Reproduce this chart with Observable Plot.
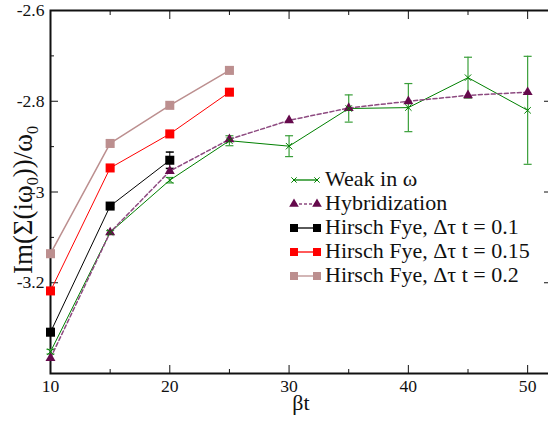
<!DOCTYPE html>
<html>
<head>
<meta charset="utf-8">
<script src="https://cdn.jsdelivr.net/npm/d3@7"></script>
<script src="https://cdn.jsdelivr.net/npm/@observablehq/plot@0.6"></script>
<style>
  html, body { margin: 0; padding: 0; background: white; }
  #chart svg { overflow: hidden; }
  #chart svg text { font-family: "Liberation Serif", "Times New Roman", Times, serif; }
</style>
</head>
<body>
<div id="chart"></div>
<script>
// ---- data ----
const xMajor = [10, 20, 30, 40, 50];
const xMinor = [15, 25, 35, 45];
const yMajor = [-3.4, -3.2, -3, -2.8, -2.6];
const yLabels = [-3.2, -3, -2.8, -2.6];
const yMinor = [-3.3, -3.1, -2.9, -2.7];

const betaAll = [10, 15, 20, 25, 30, 35, 40, 45, 50];
const weak    = [-3.352, -3.089, -2.974, -2.887, -2.899, -2.816, -2.814, -2.748, -2.820];
const weakErr = [0.005, 0.004, 0.006, 0.011, 0.023, 0.030, 0.053, 0.045, 0.119];
const hyb     = [-3.366, -3.089, -2.954, -2.884, -2.842, -2.815, -2.800, -2.787, -2.780];

const betaHF1 = [10, 15, 20];
const hf01    = [-3.309, -3.031, -2.930];
const hf01Err = [0.004, 0.004, 0.018];
const betaHF  = [10, 15, 20, 25];
const hf015   = [-3.218, -2.947, -2.872, -2.780];
const hf02    = [-3.136, -2.893, -2.809, -2.732];

const seriesNames = ["Weak in ω", "Hybridization", "Hirsch Fye, Δτ t = 0.1", "Hirsch Fye, Δτ t = 0.15", "Hirsch Fye, Δτ t = 0.2"];
const colors = {weak: "#008000", weakErr: "#3a9f3a", hyb: "#650a4c", hybLine: "#8d4a80", hf01: "#000000", hf015: "#ff0000", hf02: "#bc8f8f"};

// ---- tables ----
const weakRows = betaAll.map((b, i) => ({b, v: weak[i], e: weakErr[i]}));
const hybRows = betaAll.map((b, i) => ({b, v: hyb[i]}));
const hf01Rows = betaHF1.map((b, i) => ({b, v: hf01[i], e: hf01Err[i]}));
const hf015Rows = betaHF.map((b, i) => ({b, v: hf015[i]}));
const hf02Rows = betaHF.map((b, i) => ({b, v: hf02[i]}));

const FONT = "'Liberation Serif', 'Times New Roman', Times, serif";
const cap = {draw(ctx) { ctx.moveTo(-4, 0); ctx.lineTo(4, 0); }};
const fmt = d => String(d);
const blank = () => "";

const plot = Plot.plot({
  width: 548, height: 422,
  marginLeft: 50, marginRight: -3, marginTop: 10, marginBottom: 49,
  x: {domain: [10, 52]},
  y: {domain: [-3.4, -2.6]},
  style: {fontSize: "17.6px", color: "#111", background: "white"},
  marks: [
    // tick labels
    Plot.axisX(xMajor, {anchor: "bottom", tickSize: 0, tickPadding: 6, tickFormat: fmt, label: null, fontSize: 17.6, fontFamily: FONT}),
    Plot.axisY(yLabels, {anchor: "left", tickSize: 0, tickPadding: 6, tickFormat: fmt, label: null, fontSize: 17.6, fontFamily: FONT}),
    // inward ticks on all four sides
    Plot.axisX(xMajor, {anchor: "bottom", tickSize: -8, tickFormat: blank, label: null, stroke: "#111"}),
    Plot.axisX(xMinor, {anchor: "bottom", tickSize: -4, tickFormat: blank, label: null, stroke: "#111"}),
    Plot.axisX(xMajor, {anchor: "top", tickSize: -8, tickFormat: blank, label: null, stroke: "#111"}),
    Plot.axisX(xMinor, {anchor: "top", tickSize: -4, tickFormat: blank, label: null, stroke: "#111"}),
    Plot.axisY(yMajor, {anchor: "left", tickSize: -8, tickFormat: blank, label: null, stroke: "#111"}),
    Plot.axisY(yMinor, {anchor: "left", tickSize: -4, tickFormat: blank, label: null, stroke: "#111"}),
    Plot.axisY(yMajor, {anchor: "right", tickSize: -8, tickFormat: blank, label: null, stroke: "#111"}),
    Plot.axisY(yMinor, {anchor: "right", tickSize: -4, tickFormat: blank, label: null, stroke: "#111"}),
    Plot.frame({stroke: "#111", strokeWidth: 2}),

    // Hirsch Fye series
    Plot.line(hf02Rows, {x: "b", y: "v", stroke: colors.hf02, strokeWidth: 1.5}),
    Plot.dot(hf02Rows, {x: "b", y: "v", symbol: "square", r: 5.1, fill: colors.hf02}),
    Plot.line(hf015Rows, {x: "b", y: "v", stroke: colors.hf015, strokeWidth: 1}),
    Plot.dot(hf015Rows, {x: "b", y: "v", symbol: "square", r: 5.1, fill: colors.hf015}),
    Plot.line(hf01Rows, {x: "b", y: "v", stroke: colors.hf01, strokeWidth: 1}),
    Plot.ruleX(hf01Rows, {x: "b", y1: d => d.v - d.e, y2: d => d.v + d.e, stroke: colors.hf01}),
    Plot.dot(hf01Rows, {x: "b", y: d => d.v + d.e, symbol: cap, r: 3, fill: "none", stroke: colors.hf01}),
    Plot.dot(hf01Rows, {x: "b", y: d => d.v - d.e, symbol: cap, r: 3, fill: "none", stroke: colors.hf01}),
    Plot.dot(hf01Rows, {x: "b", y: "v", symbol: "square", r: 5.1, fill: colors.hf01}),

    // Weak in omega
    Plot.line(weakRows, {x: "b", y: "v", stroke: colors.weak, strokeWidth: 1}),
    Plot.ruleX(weakRows, {x: "b", y1: d => d.v - d.e, y2: d => d.v + d.e, stroke: colors.weakErr, strokeWidth: 1.2}),
    Plot.dot(weakRows, {x: "b", y: d => d.v + d.e, symbol: cap, r: 3, fill: "none", stroke: colors.weakErr, strokeWidth: 1.2}),
    Plot.dot(weakRows, {x: "b", y: d => d.v - d.e, symbol: cap, r: 3, fill: "none", stroke: colors.weakErr, strokeWidth: 1.2}),

    // Hybridization
    Plot.line(hybRows, {x: "b", y: "v", stroke: colors.hybLine, strokeWidth: 1.5, strokeDasharray: "4,2.5"}),
    Plot.dot(hybRows, {x: "b", y: "v", symbol: "triangle", r: 3.7, fill: colors.hyb}),

    Plot.dot(weakRows, {x: "b", y: "v", symbol: "times", r: 3, stroke: colors.weak, strokeWidth: 1}),

    // x label
    Plot.text(["βt"], {frameAnchor: "bottom", dy: 36, text: d => d, fontSize: 22, fontFamily: FONT, fill: "#111"})
  ]
});

document.getElementById("chart").appendChild(plot);

// ---- y label with subscripts ----
const svg = d3.select(plot);
const yl = svg.append("text")
  .attr("transform", "translate(32,200) rotate(-90)")
  .attr("text-anchor", "middle")
  .attr("font-family", FONT)
  .attr("font-size", 27)
  .attr("fill", "#111");
yl.append("tspan").text("Im(Σ(iω");
yl.append("tspan").attr("font-size", 16).attr("dy", 6).text("0");
yl.append("tspan").attr("dy", -6).text("))/ω");
yl.append("tspan").attr("font-size", 16).attr("dy", 6).text("0");

// ---- legend ----
const legendSpec = [
  {name: seriesNames[0], stroke: colors.weak, symbol: d3.symbolTimes, size: 20, fill: "none", mstroke: colors.weak, dash: null},
  {name: seriesNames[1], stroke: colors.hybLine, symbol: d3.symbolTriangle, size: 40, fill: colors.hyb, mstroke: "none", dash: "3,2"},
  {name: seriesNames[2], stroke: colors.hf01, symbol: d3.symbolSquare, size: 64, fill: colors.hf01, mstroke: "none", dash: null},
  {name: seriesNames[3], stroke: colors.hf015, symbol: d3.symbolSquare, size: 64, fill: colors.hf015, mstroke: "none", dash: null},
  {name: seriesNames[4], stroke: colors.hf02, symbol: d3.symbolSquare, size: 64, fill: colors.hf02, mstroke: "none", dash: null}
];
const lg = svg.append("g").attr("class", "legend").attr("text-anchor", "start");
legendSpec.forEach((s, i) => {
  const base = 185.5 + i * 24;
  const cy = base - 5.5;
  const row = lg.append("g");
  const ln = row.append("line").attr("x1", 294).attr("x2", 317).attr("y1", cy).attr("y2", cy)
    .attr("stroke", s.stroke).attr("stroke-width", 1.3);
  if (s.dash) ln.attr("stroke-dasharray", s.dash);
  [294, 317].forEach(px => {
    row.append("path").attr("d", d3.symbol(s.symbol, s.size)())
      .attr("transform", `translate(${px},${cy})`)
      .attr("fill", s.fill).attr("stroke", s.mstroke);
  });
  row.append("text").attr("x", 325).attr("y", base)
    .attr("text-anchor", "start")
    .attr("font-family", FONT)
    .attr("font-size", 22).attr("fill", "#111").text(s.name);
});
</script>
</body>
</html>
